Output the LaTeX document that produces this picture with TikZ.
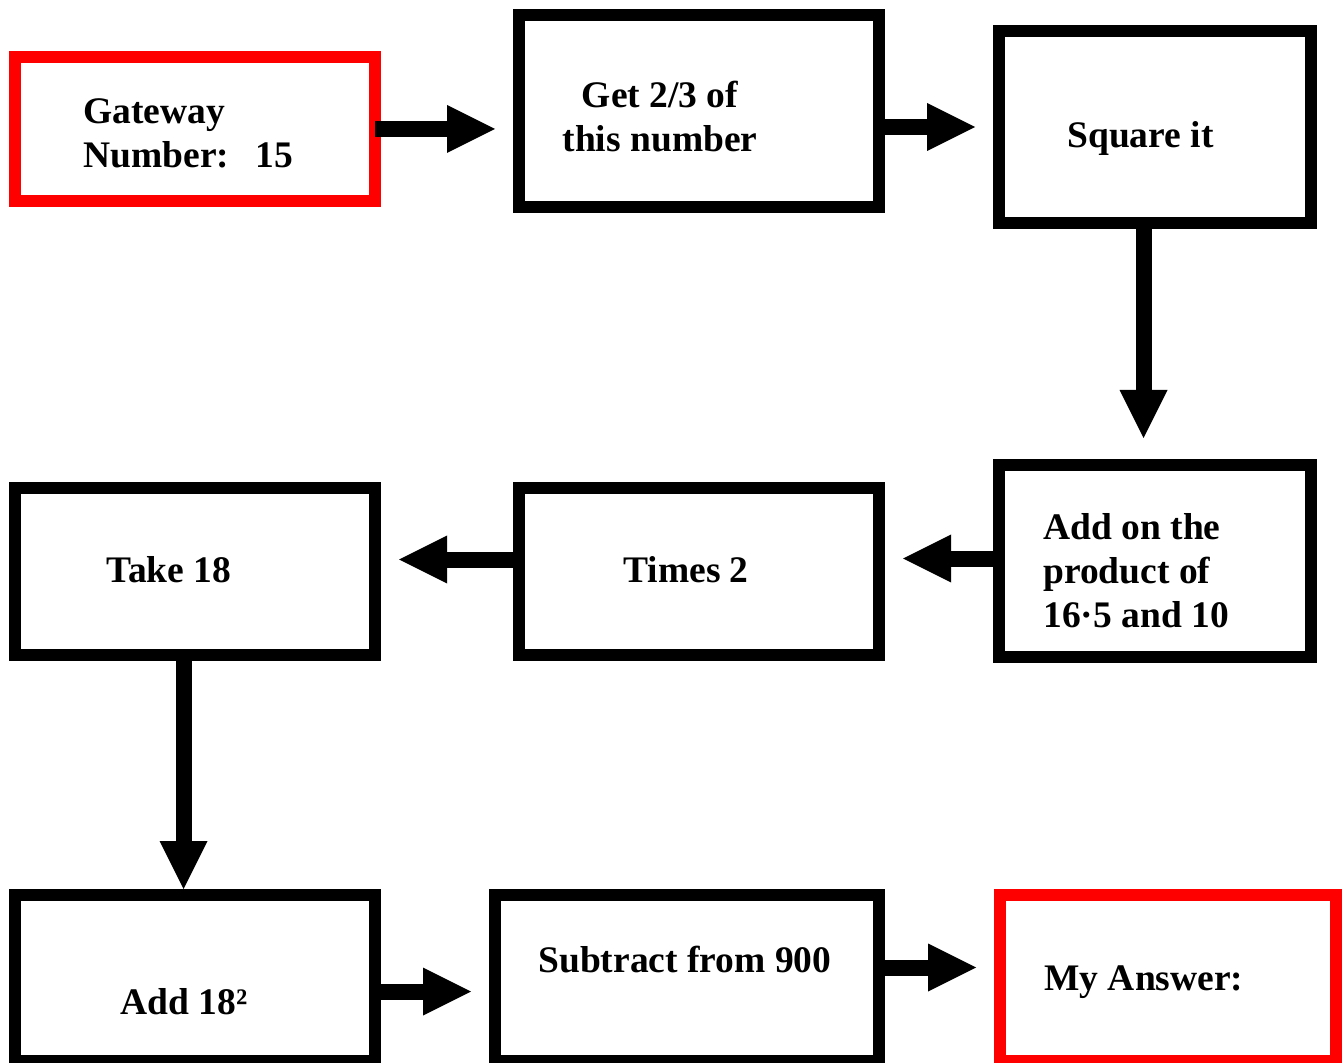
\documentclass[tikz,border=0pt]{standalone}
\usepackage{fontspec}
\setmainfont{Liberation Serif}
\usepackage{tikz}
\usetikzlibrary{arrows.meta}
\usetikzlibrary{positioning}
\tikzset{
    stepbox/.style={draw=black, line width=6pt, rectangle, inner sep=0pt, minimum width=180pt},
    endbox/.style={stepbox, draw=red},
    steptext/.style={inner sep=0pt, anchor=base west, align=left,
        font=\fontsize{18.75pt}{22pt}\selectfont\bfseries},
    flow/.style={draw=black, line width=8pt, shorten <=-3pt, shorten >=9pt,
        -{Triangle[length=24pt,width=24pt,line width=0pt]}},
}
\begin{document}
\begin{tikzpicture}[x=0.5pt, y=-0.5pt]
		\useasboundingbox (0,0) rectangle (1343,1063);
		% boxes
		\node[endbox, minimum height=72pt] (gate) at (195,129) {};
		\node[stepbox, minimum height=96pt] (third) at (699,111) {};
		\node[stepbox, minimum width=156pt, minimum height=96pt] (square) at (1155,127) {};
		\node[stepbox, minimum width=156pt, minimum height=96pt] (addon) at (1155,561) {};
		\node[stepbox, minimum height=83.5pt] (times) at (699,571.5) {};
		\node[stepbox, minimum height=83.5pt] (take) at (195,571.5) {};
		\node[stepbox, minimum height=83pt] (addsq) at (195,978) {};
		\node[stepbox, minimum width=192pt, minimum height=83pt] (subtract) at (687,978) {};
		\node[endbox, minimum width=168pt, minimum height=83pt] (answer) at (1168,978) {};
		% texts (multi-line ones sit on their last baseline)
		\node[steptext] (gatetext) at (83,168) {Gateway\\Number:\hspace{0.7em}15};
		\node[steptext, anchor=base, align=center] (thirdtext) at (660,152) {Get 2/3 of\\this number};
		\node[steptext] (squaretext) at (1067,148) {Square it};
		\node[steptext] (addontext) at (1043,627) {Add on the\\product of\\16·5 and 10};
		\node[steptext] (timestext) at (623,582) {Times 2};
		\node[steptext] (taketext) at (106,582) {Take 18};
		\node[steptext] (addsqtext) at (120,1014) {Add 18²};
		\node[steptext] (subtracttext) at (538,972) {Subtract from 900};
		\node[steptext] (answertext) at (1044,990) {My Answer:};
		% arrows
		\draw[flow] (gate.east) -- (third.west |- gate.east);
		\draw[flow] (third.east |- square.west) -- (square.west);
		\draw[flow, shorten >=10.5pt] ([xshift=-5.75pt]square.south) -- ([xshift=-5.75pt]addon.north);
		\draw[flow] ([yshift=1.25pt]addon.west) -- ([yshift=1.25pt]addon.west -| times.east);
		\draw[flow] ([yshift=6pt]times.west) -- ([yshift=6pt]take.east);
		\draw[flow, shorten >=0pt] ([xshift=-5.75pt]take.south) -- ([xshift=-5.75pt]addsq.north);
		\draw[flow] ([yshift=-6.75pt]addsq.east) -- ([yshift=-6.75pt]subtract.west);
		\draw[flow] ([yshift=5.25pt]subtract.east) -- ([yshift=5.25pt]answer.west);
\end{tikzpicture}
\end{document}
